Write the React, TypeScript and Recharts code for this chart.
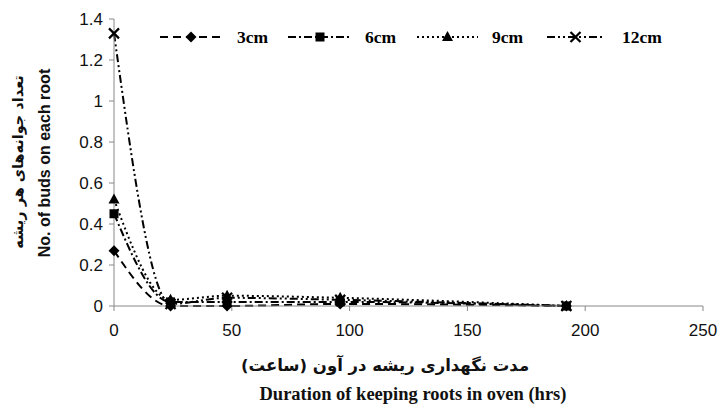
import React from 'react';
import { LineChart, Line, XAxis, YAxis } from 'recharts';

// ---- data ----
const hours = [0, 24, 48, 96, 192];
const buds3cm = [0.27, 0.0, 0.0, 0.01, 0.0];
const buds6cm = [0.45, 0.02, 0.02, 0.02, 0.0];
const buds9cm = [0.52, 0.03, 0.05, 0.04, 0.0];
const buds12cm = [1.33, 0.01, 0.04, 0.03, 0.0];
const seriesNames = ['3cm', '6cm', '9cm', '12cm'];
const xTicks = [0, 50, 100, 150, 200, 250];
const yTicks = [0, 0.2, 0.4, 0.6, 0.8, 1, 1.2, 1.4];
const yTitleFa = 'تعداد جوانه‌های هر ریشه';
const yTitleEn = 'No. of buds on each root';
const xTitleFa = 'مدت نگهداری ریشه در آون (ساعت)';
const xTitleEn = 'Duration of keeping roots in oven (hrs)';

const data = hours.map((h, i) => ({
  h,
  s0: buds3cm[i],
  s1: buds6cm[i],
  s2: buds9cm[i],
  s3: buds12cm[i],
}));

type Kind = 'diamond' | 'square' | 'triangle' | 'cross';
const kinds: Kind[] = ['diamond', 'square', 'triangle', 'cross'];
const dashes = ['8 5', '8 3 2 3', '2 3', '8 3 2 3 2 3'];

function Marker({ kind, cx, cy }: { kind: Kind; cx: number; cy: number }) {
  if (kind === 'diamond') {
    return <path d={`M${cx},${cy - 5.5}L${cx + 5.5},${cy}L${cx},${cy + 5.5}L${cx - 5.5},${cy}Z`} fill="#000" />;
  }
  if (kind === 'square') {
    return <rect x={cx - 4.5} y={cy - 4.5} width={9} height={9} fill="#000" />;
  }
  if (kind === 'triangle') {
    return <path d={`M${cx},${cy - 6}L${cx + 5.5},${cy + 4}L${cx - 5.5},${cy + 4}Z`} fill="#000" />;
  }
  return (
    <path
      d={`M${cx - 5},${cy - 5}L${cx + 5},${cy + 5}M${cx + 5},${cy - 5}L${cx - 5},${cy + 5}`}
      stroke="#000"
      strokeWidth={2.2}
      fill="none"
    />
  );
}

const makeDot = (kind: Kind) => (props: any) => {
  const { cx, cy, index } = props;
  if (cx == null || cy == null) return <g key={`d-${kind}-${index}`} />;
  return (
    <g key={`d-${kind}-${index}`}>
      <Marker kind={kind} cx={cx} cy={cy} />
    </g>
  );
};

// legend layout
const legendLine = [
  [160, 222],
  [288, 352],
  [417, 478],
  [547, 604],
];
const legendTextX = [237, 365, 492, 622];
const legendY = 37;

export default function App() {
  const tickStyle = { fontSize: 17, fill: '#111', fontFamily: "'Liberation Sans', Arial, sans-serif" };
  return (
    <div style={{ position: 'absolute', left: 0, top: 0, width: 718, height: 409, background: '#fff' }}>
      <LineChart width={718} height={409} data={data} margin={{ top: 19, right: 15, bottom: 73, left: 54 }}>
        <XAxis
          type="number"
          dataKey="h"
          domain={[0, 250]}
          ticks={xTicks}
          tick={tickStyle}
          tickSize={5}
          tickMargin={13}
          axisLine={{ stroke: '#888' }}
          tickLine={{ stroke: '#888' }}
          height={30}
        />
        <YAxis
          type="number"
          domain={[0, 1.4]}
          ticks={yTicks}
          tick={tickStyle}
          tickSize={5}
          tickMargin={6}
          width={60}
          axisLine={{ stroke: '#888' }}
          tickLine={{ stroke: '#888' }}
        />
        {seriesNames.map((name, i) => (
          <Line
            key={name}
            name={name}
            type="monotone"
            dataKey={`s${i}`}
            stroke="#000"
            strokeWidth={2}
            strokeDasharray={dashes[i]}
            dot={makeDot(kinds[i])}
            activeDot={false}
            isAnimationActive={false}
          />
        ))}
      </LineChart>
      <svg
        width={718}
        height={409}
        style={{ position: 'absolute', left: 0, top: 0, pointerEvents: 'none' }}
      >
        {seriesNames.map((name, i) => {
          const [x1, x2] = legendLine[i];
          const mid = (x1 + x2) / 2;
          return (
            <g key={name}>
              <line x1={x1} y1={legendY} x2={x2} y2={legendY} stroke="#000" strokeWidth={2} strokeDasharray={dashes[i]} />
              <Marker kind={kinds[i]} cx={mid} cy={legendY} />
              <text
                x={legendTextX[i]}
                y={legendY + 6}
                fontSize={17.5}
                fontWeight="bold"
                fontFamily="'Liberation Serif', 'Times New Roman', serif"
                fill="#000"
              >
                {name}
              </text>
            </g>
          );
        })}
        <text
          transform="translate(18,162) rotate(-90)"
          textAnchor="middle"
          dominantBaseline="central"
          fontSize={14.5}
          fontWeight="bold"
          fontFamily="'DejaVu Sans', sans-serif"
          direction="rtl"
          fill="#111"
        >
          {yTitleFa}
        </text>
        <text
          transform="translate(44,163) rotate(-90)"
          textAnchor="middle"
          dominantBaseline="central"
          fontSize={16}
          fontWeight="bold"
          fontFamily="'Liberation Sans', Arial, sans-serif"
          fill="#111"
        >
          {yTitleEn}
        </text>
        <text
          x={385}
          y={365}
          textAnchor="middle"
          dominantBaseline="central"
          fontSize={16.5}
          fontWeight="bold"
          fontFamily="'DejaVu Sans', sans-serif"
          direction="rtl"
          fill="#111"
        >
          {xTitleFa}
        </text>
        <text
          x={413}
          y={400}
          textAnchor="middle"
          fontSize={18.5}
          fontWeight="bold"
          fontFamily="'Liberation Serif', 'Times New Roman', serif"
          fill="#111"
        >
          {xTitleEn}
        </text>
      </svg>
    </div>
  );
}
